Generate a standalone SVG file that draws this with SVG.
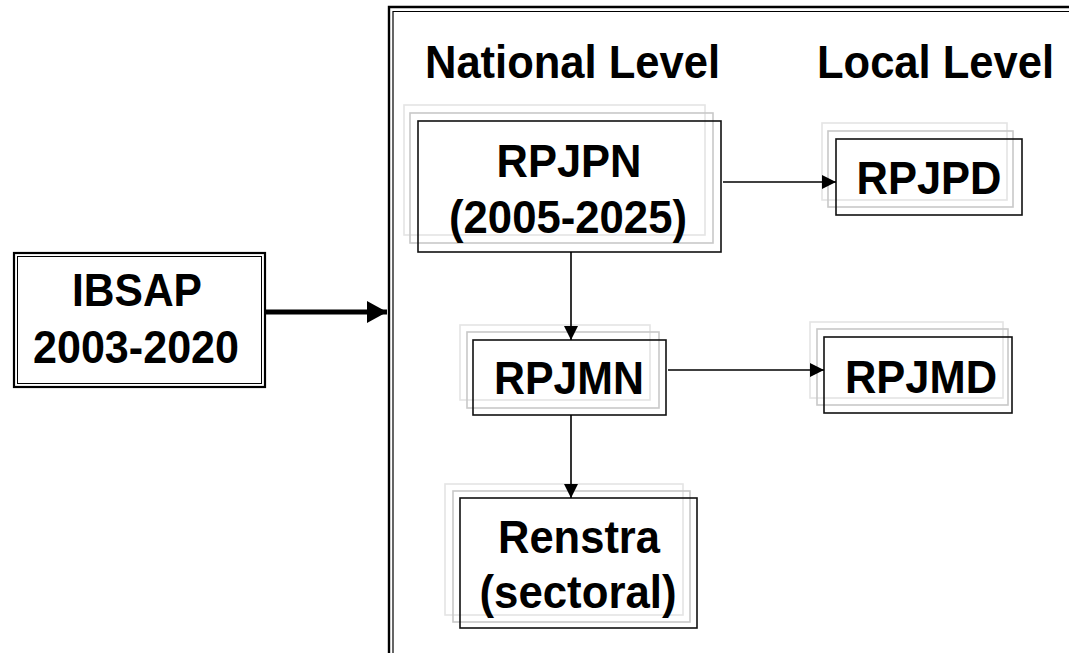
<svg xmlns="http://www.w3.org/2000/svg" width="1069" height="653" viewBox="0 0 1069 653">
  <style>
    .t { font-family: "Liberation Sans", Arial, sans-serif; font-weight: bold; font-size: 46px; fill: #000; text-anchor: middle; }
    .h { font-family: "Liberation Sans", Arial, sans-serif; font-weight: bold; font-size: 46px; fill: #000; }
    .main { fill: none; stroke: #111; stroke-width: 1.6; }
    .sh1 { fill: none; stroke: #c8c8c8; stroke-width: 1.6; }
    .sh2 { fill: none; stroke: #e4e4e4; stroke-width: 1.6; }
    .conn { stroke: #000; stroke-width: 1.6; fill: none; }
  </style>
  <defs>
    <marker id="arr" markerUnits="userSpaceOnUse" markerWidth="14" markerHeight="14" refX="14" refY="7" orient="auto">
      <path d="M0,0 L14,7 L0,14 z" fill="#000"/>
    </marker>
    <marker id="arrBig" markerUnits="userSpaceOnUse" markerWidth="20" markerHeight="22" refX="20" refY="11" orient="auto">
      <path d="M0,0 L20,11 L0,22 z" fill="#000"/>
    </marker>
  </defs>
  <rect width="1069" height="653" fill="#fff"/>

  <g id="container">
    <path d="M389,653 V7 H1069" fill="none" stroke="#000" stroke-width="2.4"/>
    <path d="M393,653 V11.5 H1069" fill="none" stroke="#000" stroke-width="1.2"/>
  </g>

  <g id="headers">
    <text class="h" x="425" y="78" textLength="295" lengthAdjust="spacingAndGlyphs">National Level</text>
    <text class="h" x="817" y="78" textLength="237" lengthAdjust="spacingAndGlyphs">Local Level</text>
  </g>

  <g id="ibsap">
    <rect x="14" y="253" width="251" height="134" fill="#fff" stroke="#000" stroke-width="2.2"/>
    <rect x="17.5" y="256.5" width="244" height="127" fill="none" stroke="#000" stroke-width="1"/>
    <text class="t" x="137" y="306" textLength="130" lengthAdjust="spacingAndGlyphs">IBSAP</text>
    <text class="t" x="136" y="363" textLength="206" lengthAdjust="spacingAndGlyphs">2003-2020</text>
  </g>

  <g id="rpjpn">
    <rect class="sh2" x="404" y="105" width="301" height="130"/>
    <rect class="sh1" x="410" y="113" width="303" height="130"/>
    <rect class="main" x="418" y="121" width="303" height="131"/>
    <text class="t" x="569" y="177" textLength="145" lengthAdjust="spacingAndGlyphs">RPJPN</text>
    <text class="t" x="568" y="233" textLength="238" lengthAdjust="spacingAndGlyphs">(2005-2025)</text>
  </g>

  <g id="rpjpd">
    <rect class="sh2" x="822" y="123" width="185" height="77"/>
    <rect class="sh1" x="828" y="131" width="185" height="76"/>
    <rect class="main" x="836" y="139" width="186" height="76"/>
    <text class="t" x="929" y="194" textLength="145" lengthAdjust="spacingAndGlyphs">RPJPD</text>
  </g>

  <g id="rpjmn">
    <rect class="sh2" x="460" y="325" width="190" height="75"/>
    <rect class="sh1" x="467" y="332" width="192" height="76"/>
    <rect class="main" x="473" y="340" width="193" height="75"/>
    <text class="t" x="569" y="394" textLength="150" lengthAdjust="spacingAndGlyphs">RPJMN</text>
  </g>

  <g id="rpjmd">
    <rect class="sh2" x="810" y="322" width="193" height="76"/>
    <rect class="sh1" x="817" y="329" width="191" height="76"/>
    <rect class="main" x="824" y="337" width="188" height="76"/>
    <text class="t" x="921" y="393" textLength="152" lengthAdjust="spacingAndGlyphs">RPJMD</text>
  </g>

  <g id="renstra">
    <rect class="sh2" x="445" y="484" width="238" height="131"/>
    <rect class="sh1" x="453" y="491" width="237" height="131"/>
    <rect class="main" x="460" y="498" width="237" height="130"/>
    <text class="t" x="579" y="553" textLength="162" lengthAdjust="spacingAndGlyphs">Renstra</text>
    <text class="t" x="578" y="608" textLength="197" lengthAdjust="spacingAndGlyphs">(sectoral)</text>
  </g>

  <g id="connectors">
    <line x1="265" y1="312" x2="387" y2="312" stroke="#000" stroke-width="5" marker-end="url(#arrBig)"/>
    <line class="conn" x1="723" y1="182" x2="836" y2="182" marker-end="url(#arr)"/>
    <line class="conn" x1="571" y1="252" x2="571" y2="340" marker-end="url(#arr)"/>
    <line class="conn" x1="668" y1="370" x2="824" y2="370" marker-end="url(#arr)"/>
    <line class="conn" x1="571" y1="415" x2="571" y2="498" marker-end="url(#arr)"/>
  </g>
</svg>
